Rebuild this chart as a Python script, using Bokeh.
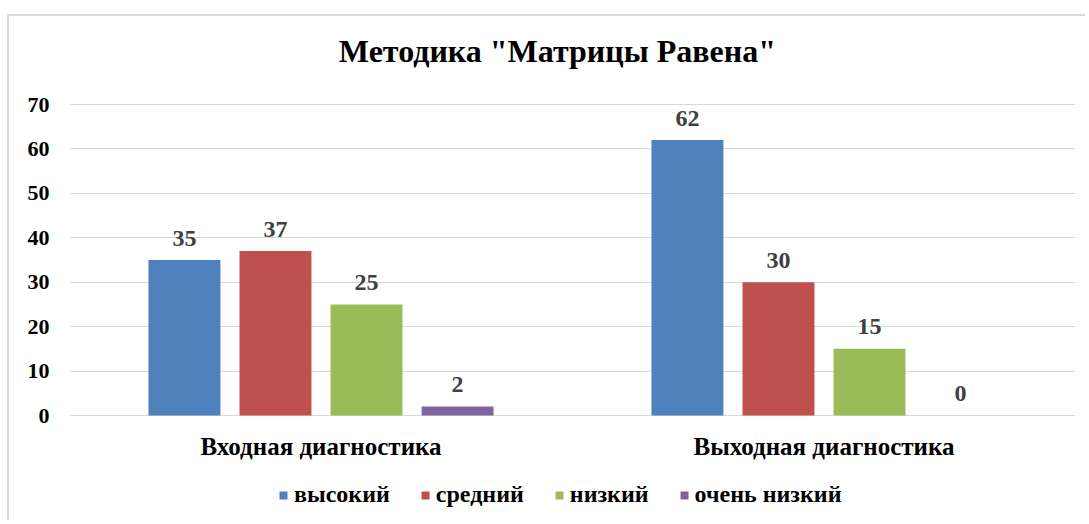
from bokeh.plotting import figure
from bokeh.models import FactorRange, Legend, LegendItem, FixedTicker, Range1d
from bokeh.transform import dodge
from bokeh.core.properties import value
from bokeh.embed import file_html
from bokeh.resources import INLINE

title_text = 'Методика "Матрицы Равена"'
categories = ["Входная диагностика", "Выходная диагностика"]
series_names = ["высокий", "средний", "низкий", "очень низкий"]
high = [35, 62]
medium = [37, 30]
low = [25, 15]
very_low = [2, 0]
y_ticks = [0, 10, 20, 30, 40, 50, 60, 70]

colors = ["#4f81bd", "#c0504d", "#9bbb59", "#8064a2"]
series = [high, medium, low, very_low]
FONT = "Liberation Serif"

# layout geometry (pixels): value axis 0..70 spans 311 px,
# frame extends 88 px above 70 (title area) and 107 px below 0 (labels + legend)
Y_MAX = 70
px_per_unit = 311 / Y_MAX
y_top = Y_MAX + 88 / px_per_unit
y_bottom = -107 / px_per_unit

p = figure(x_range=FactorRange(*categories), y_range=Range1d(y_bottom, y_top),
           width=1078, height=506, output_backend="svg", toolbar_location=None,
           min_border_left=60, min_border_right=12, min_border_top=0, min_border_bottom=0)
p.styles = {"border-top": "2px solid #d9d9d9", "border-left": "2px solid #d9d9d9",
            "margin-top": "14px", "margin-left": "7px"}

# title, drawn in the empty band above the value axis
p.text(x=[0.97], y=[Y_MAX + 54 / px_per_unit], text=[title_text], text_align="center",
       text_baseline="alphabetic", text_font=value(FONT), text_font_size="32px",
       text_font_style="bold", text_color="#000000")

spacing = 0.181
bw = 0.143
renderers = []
for i, (name, vals, col) in enumerate(zip(series_names, series, colors)):
    off = spacing * (i - 1.5)
    src = {"cat": categories, "val": vals, "lbl": [str(v) for v in vals]}
    r = p.vbar(x=dodge("cat", off, range=p.x_range), top="val", width=bw, source=src,
               fill_color=col, line_color=None)
    renderers.append((name, r))
    p.text(x=dodge("cat", off, range=p.x_range), y="val", text="lbl", source=src,
           text_align="center", text_baseline="middle", y_offset=-22,
           text_font=value(FONT), text_font_size="24px", text_font_style="bold",
           text_color="#404040")

# category labels drawn below the zero line
p.text(x=categories, y=[0, 0], text=categories, text_align="center", text_baseline="middle",
       y_offset=31, text_font=value(FONT), text_font_size="25px", text_font_style="bold",
       text_color="#000000")

legend = Legend(items=[LegendItem(label=n, renderers=[r]) for n, r in renderers],
                orientation="horizontal", location=(209, 14),
                glyph_width=10, glyph_height=10, label_height=10, label_standoff=6,
                spacing=30, padding=0, margin=0, border_line_color=None,
                background_fill_alpha=0,
                label_text_font=FONT, label_text_font_size="24px",
                label_text_font_style="bold", label_text_color="#000000")
p.add_layout(legend, "center")

p.outline_line_color = None
p.xaxis.visible = False
p.xgrid.grid_line_color = None
p.ygrid.grid_line_color = "#d9d9d9"
p.ygrid.grid_line_width = 1
p.yaxis.ticker = FixedTicker(ticks=y_ticks)
p.yaxis.axis_line_color = None
p.yaxis.major_tick_line_color = None
p.yaxis.minor_tick_line_color = None
p.yaxis.major_tick_out = 0
p.yaxis.major_tick_in = 0
p.yaxis.major_label_standoff = 20
p.yaxis.major_label_text_font = FONT
p.yaxis.major_label_text_font_size = "22px"
p.yaxis.major_label_text_font_style = "bold"
p.yaxis.major_label_text_color = "#000000"

open("out.html", "w").write(file_html(p, INLINE))
